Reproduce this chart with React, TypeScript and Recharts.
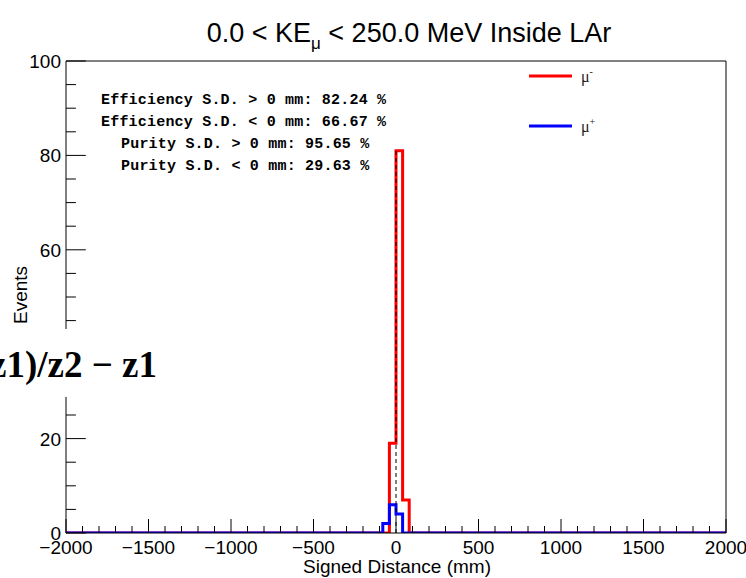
import React from 'react';
import { ComposedChart, Line, XAxis, YAxis, ReferenceLine } from 'recharts';

// Histogram step edges (mm) and counts per bin starting at each edge
const binEdges = [-2000, -80, -40, 0, 40, 80, 2000];
const muMinusCounts = [0, 0, 19, 81, 7, 0, 0];
const muPlusCounts = [0, 2, 6, 4, 0, 0, 0];

const xMajorTicks = [-2000, -1500, -1000, -500, 0, 500, 1000, 1500, 2000];
const yMajorTicks = [0, 20, 40, 60, 80, 100];

const titleMain = '0.0 < KE';
const titleSub = 'μ';
const titleRest = ' < 250.0 MeV Inside LAr';
const xTitle = 'Signed Distance (mm)';
const yTitle = 'Events';
const statLines = [
  'Efficiency S.D. > 0 mm: 82.24 %',
  'Efficiency S.D. < 0 mm: 66.67 %',
  'Purity S.D. > 0 mm: 95.65 %',
  'Purity S.D. < 0 mm: 29.63 %',
];
const legendItems = [
  { label: 'μ', sup: '-', color: '#ff0000' },
  { label: 'μ', sup: '+', color: '#0000ff' },
];
const overlayFormula = '(z − z1)/z2 − z1';

const data = binEdges.map((x, i) => ({ x, muMinus: muMinusCounts[i], muPlus: muPlusCounts[i] }));

const xMinor: number[] = [];
for (let v = -2000; v <= 2000; v += 100) xMinor.push(v);
const yMinor: number[] = [];
for (let v = 0; v <= 100; v += 5) yMinor.push(v);

const fmt = (v: number) => (v < 0 ? '\u2212' + Math.abs(v) : String(v));
const SANS = '"Liberation Sans", Arial, Helvetica, sans-serif';

const XTick = (props: any) => {
  const { x, y, payload } = props;
  const v = payload.value;
  const major = xMajorTicks.includes(v);
  const len = major ? 14 : 7;
  return (
    <g>
      <line x1={x} x2={x} y1={y} y2={y - len} stroke="#000" strokeWidth={1} />
      {major && (
        <text x={x} y={y + 21} textAnchor="middle" fontFamily={SANS} fontSize={19} fill="#000">
          {fmt(v)}
        </text>
      )}
    </g>
  );
};

const YTick = (props: any) => {
  const { x, y, payload } = props;
  const v = payload.value;
  const major = yMajorTicks.includes(v);
  const len = major ? 19.8 : 9.9;
  return (
    <g>
      <line x1={x} x2={x + len} y1={y} y2={y} stroke="#000" strokeWidth={1} />
      {major && (
        <text x={x - 5} y={y + 7} textAnchor="end" fontFamily={SANS} fontSize={19} fill="#000">
          {fmt(v)}
        </text>
      )}
    </g>
  );
};

export default function App() {
  const peak = Math.max(...muMinusCounts);
  return (
    <div style={{ position: 'absolute', left: 0, top: 0, width: 746, height: 578, background: '#fff' }}>
      <ComposedChart width={746} height={578} data={data} margin={{ top: 61, right: 20, bottom: 0, left: 0 }}>
        <XAxis
          dataKey="x"
          type="number"
          domain={[-2000, 2000]}
          ticks={xMinor}
          interval={0}
          tickSize={0}
          tickMargin={0}
          tick={<XTick />}
          height={45}
          axisLine={{ stroke: '#000' }}
          allowDataOverflow
        />
        <YAxis
          type="number"
          domain={[0, 100]}
          ticks={yMinor}
          interval={0}
          tickSize={0}
          tickMargin={0}
          tick={<YTick />}
          width={66}
          axisLine={{ stroke: '#000' }}
          allowDataOverflow
        />
        <ReferenceLine y={100} stroke="#000" strokeWidth={1} />
        <ReferenceLine x={2000} stroke="#000" strokeWidth={1} />
        <Line
          type="stepAfter"
          dataKey="muMinus"
          stroke="#ff0000"
          strokeWidth={3}
          dot={false}
          activeDot={false}
          isAnimationActive={false}
        />
        <Line
          type="stepAfter"
          dataKey="muPlus"
          stroke="#0000ff"
          strokeWidth={3}
          dot={false}
          activeDot={false}
          isAnimationActive={false}
        />
        <ReferenceLine
          segment={[{ x: 0, y: 0 }, { x: 0, y: peak }]}
          stroke="#000"
          strokeWidth={1}
          strokeDasharray="4 3"
        />
      </ComposedChart>
      <svg width={746} height={578} style={{ position: 'absolute', left: 0, top: 0, pointerEvents: 'none' }}>
        <text x={409} y={42} textAnchor="middle" fontFamily={SANS} fontSize={27} fill="#000">
          {titleMain}
          <tspan fontSize={17} dy={7}>{titleSub}</tspan>
          <tspan dy={-7}>{titleRest}</tspan>
        </text>
        <text x={0} y={0} transform="translate(27 295) rotate(-90)" textAnchor="middle" fontFamily={SANS} fontSize={19} fill="#000">
          {yTitle}
        </text>
        <text x={397} y={573} textAnchor="middle" fontFamily={SANS} fontSize={19} fill="#000">
          {xTitle}
        </text>
        {statLines.map((s, i) => (
          <text
            key={i}
            x={i < 2 ? 101 : 121}
            y={[104, 126, 148, 170][i]}
            fontFamily='"Liberation Mono", "Courier New", monospace'
            fontWeight="bold"
            fontSize={15}
            letterSpacing={0.2}
            fill="#000"
          >
            {s}
          </text>
        ))}
        {legendItems.map((it, i) => (
          <g key={i}>
            <line x1={529} x2={572} y1={[76, 126][i]} y2={[76, 126][i]} stroke={it.color} strokeWidth={3} />
            <text x={581} y={[76, 126][i] + 6} fontFamily='"Liberation Serif", serif' fontSize={16} fill="#222">
              {it.label}
              <tspan fontSize={10} dy={-7}>{it.sup}</tspan>
            </text>
          </g>
        ))}
        <rect x={0} y={329} width={200} height={68} fill="#fff" />
        <text x={157} y={377} textAnchor="end" fontFamily='"Liberation Serif", "Times New Roman", serif' fontWeight="bold" fontSize={37} fill="#000">
          {overlayFormula}
        </text>
      </svg>
    </div>
  );
}
